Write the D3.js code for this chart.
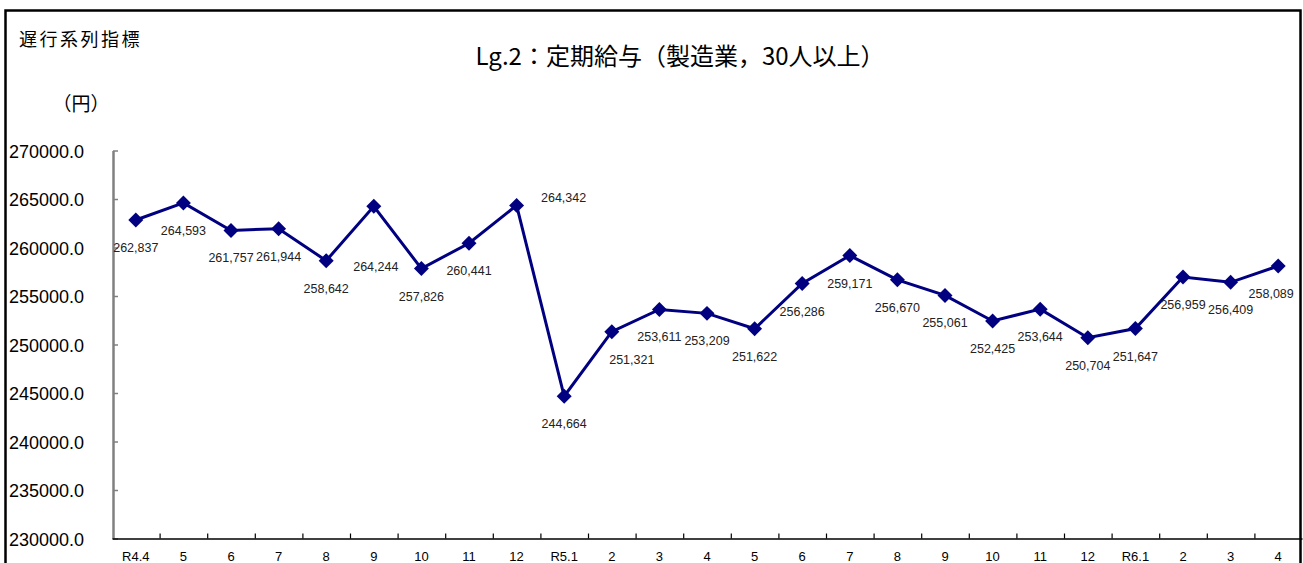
<!DOCTYPE html>
<html>
<head>
<meta charset="utf-8">
<script src="https://cdn.jsdelivr.net/npm/d3@7"></script>
<style>
  body { margin: 0; background: #fff; }
  svg { display: block; }
  text { fill: #000; }
</style>
</head>
<body>
<div id="chart"></div>
<script>
// month labels (x axis)
var months = ["R4.4","5","6","7","8","9","10","11","12",
              "R5.1","2","3","4","5","6","7","8","9","10","11","12",
              "R6.1","2","3","4"];
// 定期給与 (円)
var wages = [262837,264593,261757,261944,258642,264244,257826,260441,264342,
             244664,251321,253611,253209,251622,256286,259171,256670,255061,252425,253644,250704,
             251647,256959,256409,258089];
var yTicks = [230000,235000,240000,245000,250000,255000,260000,265000,270000];

// a few labels are shifted in the original (index -> [dx, dy])
var labelNudge = { 5: [2, 33], 8: [47, -35], 10: [20, 0], 24: [-7, 0] };

function drawChart(selector){
    var width = 1303, height = 563;
    var left = 112, right = 1302, top = 150.5, bottom = 538.5;

    var svg = d3.select(selector).append("svg")
        .attr("width", width)
        .attr("height", height);

    var x = d3.scaleBand()
        .domain(d3.range(months.length))
        .range([left, right])
        .paddingInner(0).paddingOuter(0);
    var xEdge = d3.scaleLinear().domain([0, months.length]).range([left, right]);
    var y = d3.scaleLinear().domain([230000, 270000]).range([bottom, top]);

    var numFont = "'Liberation Sans', Arial, 'Noto Sans CJK JP', sans-serif";
    var jpFont = "'Noto Sans CJK JP', 'Noto Sans CJK SC', sans-serif";

    // frame
    svg.append("path")
        .attr("d", "M5.5,580 V10.5 H1300.5 V580")
        .attr("fill", "none")
        .attr("stroke", "#000")
        .attr("stroke-width", 2.5);

    // titles
    svg.append("text")
        .attr("x", 19).attr("y", 38)
        .attr("dominant-baseline", "central")
        .style("font-family", jpFont).style("font-size", "18px")
        .style("letter-spacing", "2.5px")
        .text("遅行系列指標");
    svg.append("text")
        .attr("x", 81).attr("y", 102)
        .attr("text-anchor", "middle")
        .attr("dominant-baseline", "central")
        .style("font-family", jpFont).style("font-size", "19px")
        .text("（円）");
    svg.append("text")
        .attr("x", 680).attr("y", 54)
        .attr("text-anchor", "middle")
        .attr("dominant-baseline", "central")
        .style("font-family", jpFont).style("font-size", "24px")
        .text("Lg.2：定期給与（製造業，30人以上）");

    // y axis
    var yAxis = svg.append("g")
        .attr("transform", "translate(" + (left + 1) + ",0)")
        .call(d3.axisRight(y).tickValues(yTicks).tickSize(5).tickSizeOuter(0).tickFormat(""));
    yAxis.select(".domain").attr("stroke", "#808080").attr("stroke-width", 2.5);
    yAxis.selectAll(".tick line").attr("stroke", "#808080").attr("stroke-width", 1.5);

    svg.append("g").selectAll("text")
        .data(yTicks).enter().append("text")
        .attr("x", 9)
        .attr("y", function(d){ return y(d) + 1; })
        .attr("dominant-baseline", "central")
        .style("font-family", numFont).style("font-size", "18px")
        .text(d3.format(".1f"));

    // x axis
    var xAxis = svg.append("g")
        .attr("transform", "translate(0," + bottom + ")")
        .call(d3.axisBottom(xEdge).tickValues(d3.range(1, months.length))
              .tickSize(-5).tickSizeOuter(0).tickFormat(""));
    xAxis.select(".domain").attr("stroke", "#000").attr("stroke-width", 1.5);
    xAxis.selectAll(".tick line").attr("stroke", "#000").attr("stroke-width", 1.2);

    svg.append("g").selectAll("text")
        .data(months).enter().append("text")
        .attr("x", function(d, i){ return x(i) + x.bandwidth() / 2; })
        .attr("y", 556)
        .attr("text-anchor", "middle")
        .attr("dominant-baseline", "central")
        .style("font-family", numFont).style("font-size", "13px")
        .text(function(d){ return d; });

    // line
    var line = d3.line()
        .x(function(d, i){ return x(i) + x.bandwidth() / 2; })
        .y(function(d){ return y(d); });
    svg.append("path")
        .datum(wages)
        .attr("d", line)
        .attr("fill", "none")
        .attr("stroke", "#000080")
        .attr("stroke-width", 3);

    // markers
    svg.append("g").selectAll("path")
        .data(wages).enter().append("path")
        .attr("d", d3.symbol().type(d3.symbolSquare).size(112))
        .attr("transform", function(d, i){
            return "translate(" + (x(i) + x.bandwidth() / 2) + "," + y(d) + ") rotate(45)";
        })
        .attr("fill", "#000080");

    // data labels
    svg.append("g").selectAll("text")
        .data(wages).enter().append("text")
        .attr("x", function(d, i){
            var n = labelNudge[i] || [0, 0];
            return x(i) + x.bandwidth() / 2 + n[0];
        })
        .attr("y", function(d, i){
            var n = labelNudge[i] || [0, 0];
            return y(d) + 28 + n[1];
        })
        .attr("text-anchor", "middle")
        .attr("dominant-baseline", "central")
        .style("font-family", numFont).style("font-size", "12.5px")
        .style("fill", "#222")
        .text(d3.format(","));
}

drawChart("#chart");
</script>
</body>
</html>
